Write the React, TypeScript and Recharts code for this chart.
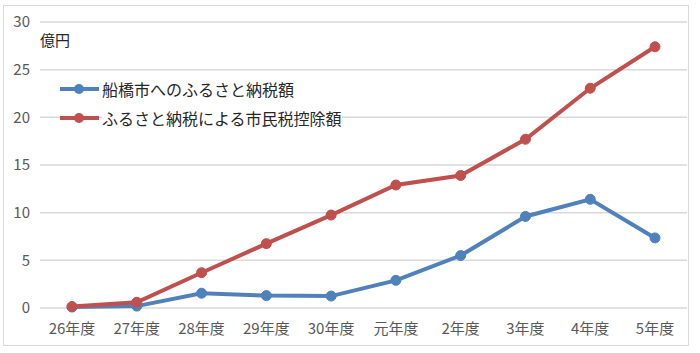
import { LineChart, Line, XAxis, YAxis, CartesianGrid } from 'recharts'

const years = ['26年度', '27年度', '28年度', '29年度', '30年度', '元年度', '2年度', '3年度', '4年度', '5年度']
const donations = [0.1, 0.2, 1.55, 1.3, 1.25, 2.9, 5.5, 9.6, 11.4, 7.35]
const deductions = [0.15, 0.6, 3.7, 6.75, 9.75, 12.9, 13.9, 17.7, 23.05, 27.4]
const yTicks = [0, 5, 10, 15, 20, 25, 30]

const BLUE = '#4F81BD'
const RED = '#C0504D'
const FONT = '"Noto Sans CJK JP", "Noto Sans", sans-serif'

const chartData = years.map((year, i) => ({
  year,
  donations: donations[i],
  deductions: deductions[i],
}))

const legendItems = [
  { name: '船橋市へのふるさと納税額', color: BLUE },
  { name: 'ふるさと納税による市民税控除額', color: RED },
]

// legend sits inside the plot area, so it's drawn over the chart instead of via <Legend>
function ChartLegend() {
  return (
    <div style={{ position: 'absolute', left: 59, top: 74 }}>
      {legendItems.map(item => (
        <div key={item.name} style={{ display: 'flex', alignItems: 'center', height: 29 }}>
          <svg width={42} height={14}>
            <line x1={1} y1={7} x2={40} y2={7} stroke={item.color} strokeWidth={4} />
            <circle cx={20} cy={7} r={5} fill={item.color} />
          </svg>
          <span style={{ fontSize: 16, color: '#262626', marginLeft: 1, background: '#fff', lineHeight: '20px' }}>
            {item.name}
          </span>
        </div>
      ))}
    </div>
  )
}

export default function App() {
  return (
    <div style={{ position: 'relative', width: 700, height: 353, fontFamily: FONT, background: '#fff' }}>
      <style>{'body { margin: 0; }'}</style>
      <div
        style={{
          position: 'absolute',
          left: 3,
          top: 5,
          width: 686,
          height: 341,
          border: '1px solid #d9d9d9',
          boxSizing: 'border-box',
        }}
      />
      <LineChart width={700} height={353} data={chartData} margin={{ top: 22, right: 13, left: 0, bottom: 0 }}>
        <CartesianGrid vertical={false} stroke="#d9d9d9" strokeWidth={1.5} />
        <XAxis
          dataKey="year"
          axisLine={false}
          tickLine={false}
          height={45}
          tickMargin={9}
          interval={0}
          padding={{ left: 32, right: 32 }}
          tick={{ fill: '#595959', fontSize: 15, fontFamily: FONT }}
        />
        <YAxis
          domain={[0, 30]}
          ticks={yTicks}
          axisLine={false}
          tickLine={false}
          width={40}
          tickMargin={4}
          tick={{ fill: '#595959', fontSize: 15, fontFamily: FONT }}
        />
        <Line
          type="linear"
          dataKey="donations"
          stroke={BLUE}
          strokeWidth={4}
          dot={{ r: 5, fill: BLUE, stroke: BLUE, strokeWidth: 1 }}
          isAnimationActive={false}
        />
        <Line
          type="linear"
          dataKey="deductions"
          stroke={RED}
          strokeWidth={4}
          dot={{ r: 5, fill: RED, stroke: RED, strokeWidth: 1 }}
          isAnimationActive={false}
        />
      </LineChart>
      <ChartLegend />
      <div style={{ position: 'absolute', left: 40, top: 29, fontSize: 15, color: '#262626' }}>億円</div>
    </div>
  )
}
